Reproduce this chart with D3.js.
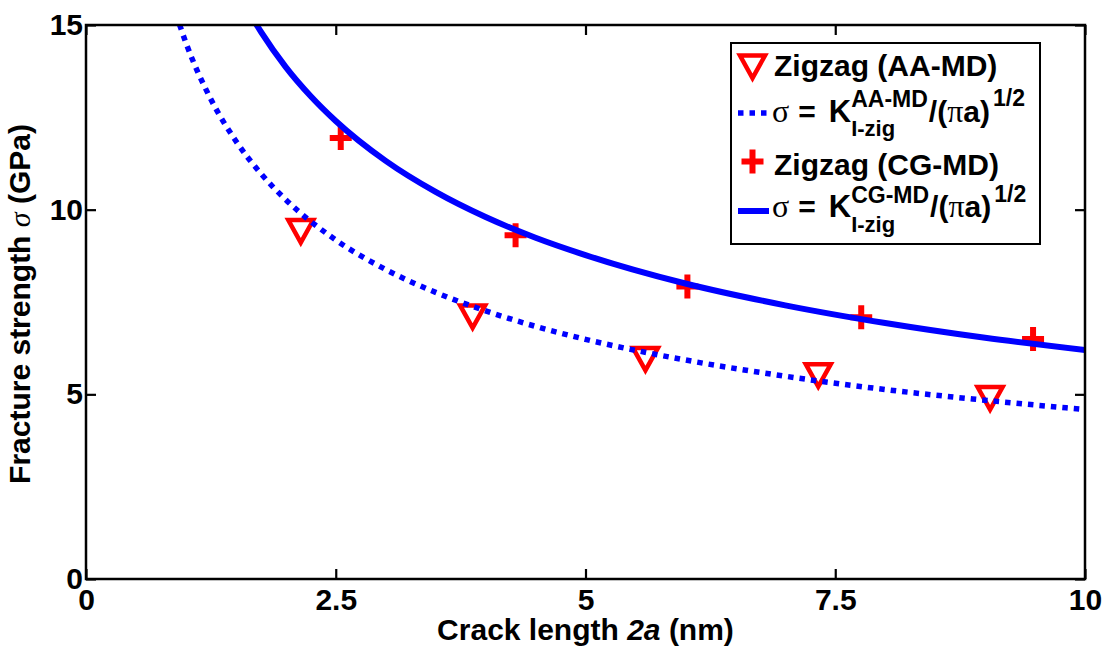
<!DOCTYPE html>
<html>
<head>
<meta charset="utf-8">
<script src="https://cdn.jsdelivr.net/npm/d3@7"></script>
<style>
  body { margin: 0; background: #fff; }
  svg { display: block; font-family: "Liberation Sans", Arial, sans-serif; font-weight: bold; }
  .axis text { font-size: 30px; font-weight: bold; fill: #000; font-family: "Liberation Sans", Arial, sans-serif; }
  .axis line { stroke: #000; stroke-width: 2.2; }
  .axis .domain { display: none; }
</style>
</head>
<body>
<div id="chart"></div>
<script>
// crack length 2a (nm) and fracture strength (GPa)
const aaX = [2.15, 3.87, 5.60, 7.33, 9.05];
const aaY = [9.42, 7.11, 5.96, 5.52, 4.90];
const cgX = [2.55, 4.30, 6.02, 7.76, 9.48];
const cgY = [11.94, 9.31, 7.92, 7.09, 6.50];

// fitted curves sigma = K/(pi a)^1/2
const aaFitX = [0.9, 1.0, 1.25, 1.5, 1.75, 2.0, 2.5, 3.0, 3.5, 4.0, 4.5, 5.0, 6.0, 7.0, 8.0, 9.0, 10.0];
const aaFitY = [15.31, 14.52, 12.99, 11.86, 10.98, 10.27, 9.18, 8.38, 7.76, 7.26, 6.84, 6.49, 5.93, 5.49, 5.13, 4.84, 4.59];
const cgFitX = [1.65, 1.75, 2.0, 2.25, 2.5, 3.0, 3.5, 4.0, 4.5, 5.0, 6.0, 7.0, 8.0, 9.0, 10.0];
const cgFitY = [15.26, 14.82, 13.86, 13.07, 12.40, 11.32, 10.48, 9.80, 9.24, 8.77, 8.00, 7.41, 6.93, 6.53, 6.20];

const xTicks = [0, 2.5, 5, 7.5, 10];
const yTicks = [0, 5, 10, 15];

const W = 1106, H = 646;
const margin = {top: 25, right: 21, bottom: 67, left: 86};
const width = W - margin.left - margin.right;
const height = H - margin.top - margin.bottom;
const blue = "#0000ff", red = "#ff0000";

const svg = d3.select("#chart").append("svg")
    .attr("width", W)
    .attr("height", H);
const g = svg.append("g")
    .attr("transform", `translate(${margin.left},${margin.top})`);

const x = d3.scaleLinear().domain([0, 10]).range([0, width]);
const y = d3.scaleLinear().domain([0, 15]).range([height, 0]);

// axes, ticks pointing inward on all four sides
g.append("g").attr("class", "axis")
    .attr("transform", `translate(0,${height})`)
    .call(d3.axisBottom(x).tickValues(xTicks).tickFormat(d3.format("")).tickSizeInner(-10).tickSizeOuter(0).tickPadding(10));
g.append("g").attr("class", "axis")
    .call(d3.axisLeft(y).tickValues(yTicks).tickFormat(d3.format("")).tickSizeInner(-10).tickSizeOuter(0).tickPadding(3));
g.append("g").attr("class", "axis")
    .call(d3.axisTop(x).tickValues(xTicks).tickFormat("").tickSizeInner(-10).tickSizeOuter(0));
g.append("g").attr("class", "axis")
    .attr("transform", `translate(${width},0)`)
    .call(d3.axisRight(y).tickValues(yTicks).tickFormat("").tickSizeInner(-10).tickSizeOuter(0));

g.append("clipPath").attr("id", "plot-clip")
    .append("rect").attr("width", width).attr("height", height);

// markers
const triPath = "M-12.5,-11L12.5,-11L0,11.5Z";
const plusPath = "M-11,0L11,0M0,-12L0,12";

g.append("g").selectAll("path")
    .data(aaX.map((d, i) => ({x: d, y: aaY[i]})))
    .join("path")
    .attr("d", triPath)
    .attr("transform", d => `translate(${x(d.x)},${y(d.y)})`)
    .attr("fill", "none")
    .attr("stroke", red)
    .attr("stroke-width", 4.5);

g.append("g").selectAll("path")
    .data(cgX.map((d, i) => ({x: d, y: cgY[i]})))
    .join("path")
    .attr("d", plusPath)
    .attr("transform", d => `translate(${x(d.x)},${y(d.y)})`)
    .attr("fill", "none")
    .attr("stroke", red)
    .attr("stroke-width", 6);

// fitted curves
const line = d3.line().x(d => x(d.x)).y(d => y(d.y)).curve(d3.curveMonotoneX);
const curves = g.append("g").attr("clip-path", "url(#plot-clip)");
curves.append("path")
    .attr("d", line(aaFitX.map((d, i) => ({x: d, y: aaFitY[i]}))))
    .attr("fill", "none")
    .attr("stroke", blue)
    .attr("stroke-width", 5.5)
    .attr("stroke-dasharray", "5.5 6");
curves.append("path")
    .attr("d", line(cgFitX.map((d, i) => ({x: d, y: cgFitY[i]}))))
    .attr("fill", "none")
    .attr("stroke", blue)
    .attr("stroke-width", 6);

// frame
g.append("rect")
    .attr("width", width)
    .attr("height", height)
    .attr("fill", "none")
    .attr("stroke", "#000")
    .attr("stroke-width", 2.5);

// axis titles
const xt = svg.append("text")
    .attr("x", margin.left + width / 2)
    .attr("y", 640)
    .attr("text-anchor", "middle")
    .style("font-size", "30px");
xt.append("tspan").text("Crack length ");
xt.append("tspan").style("font-style", "italic").text("2a");
xt.append("tspan").text(" (nm)");

const yt = svg.append("text")
    .attr("transform", `translate(30,304) rotate(-90)`)
    .attr("text-anchor", "middle")
    .style("font-size", "30px");
yt.append("tspan").text("Fracture strength ");
yt.append("tspan").style("font-style", "italic").style("font-weight", "normal")
    .style("font-family", "'Liberation Serif', serif").text("σ");
yt.append("tspan").text(" (GPa)");

// legend
const lg = svg.append("g");
lg.append("rect")
    .attr("x", 731).attr("y", 43)
    .attr("width", 309).attr("height", 201)
    .attr("fill", "#fff")
    .attr("stroke", "#000")
    .attr("stroke-width", 2);

lg.append("path").attr("d", triPath)
    .attr("transform", "translate(752.5,66.5)")
    .attr("fill", "none").attr("stroke", red).attr("stroke-width", 4.5);
lg.append("text").attr("x", 774).attr("y", 76).style("font-size", "30px").text("Zigzag (AA-MD)");

lg.append("path").attr("d", plusPath)
    .attr("transform", "translate(752.5,161.5)")
    .attr("fill", "none").attr("stroke", red).attr("stroke-width", 6);
lg.append("text").attr("x", 774).attr("y", 175).style("font-size", "30px").text("Zigzag (CG-MD)");

lg.append("line").attr("x1", 738).attr("x2", 769).attr("y1", 113).attr("y2", 113)
    .attr("stroke", blue).attr("stroke-width", 5.5).attr("stroke-dasharray", "5.5 6");
lg.append("line").attr("x1", 738).attr("x2", 769).attr("y1", 211).attr("y2", 211)
    .attr("stroke", blue).attr("stroke-width", 6);

function piece(x0, base, txt, size, opts = {}) {
    const t = lg.append("text").attr("x", x0).attr("y", base)
        .style("font-size", size + "px").text(txt);
    if (opts.serif) t.style("font-family", "'Liberation Serif', serif").style("font-weight", "normal");
    return x0 + t.node().getComputedTextLength();
}

function equation(base, sup) {
    let cx = 772;
    cx = piece(cx, base, "σ", 32, {serif: true});
    cx = piece(cx + 9, base, "=", 30);
    cx = piece(cx + 13, base, "K", 31);
    const e1 = piece(cx, base - 14.5, sup, 23);
    const e2 = piece(cx, base + 14.5, "I-zig", 22);
    cx = Math.max(e1, e2);
    cx = piece(cx + 1, base, "/(", 30);
    cx = piece(cx, base, "π", 32, {serif: true});
    cx = piece(cx, base, "a)", 30);
    piece(cx + 3, base - 15.5, "1/2", 23);
}
equation(121.5, "AA-MD");
equation(217, "CG-MD");
</script>
</body>
</html>
